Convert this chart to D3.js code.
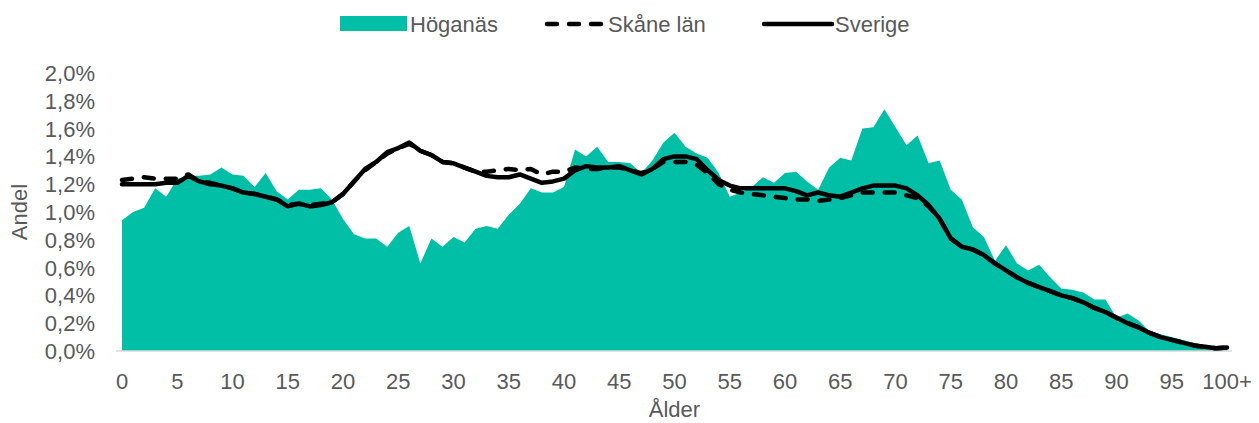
<!DOCTYPE html>
<html>
<head>
<meta charset="utf-8">
<script src="https://cdn.jsdelivr.net/npm/d3@7"></script>
<style>
  body { margin: 0; background: #fff; }
  text { font-family: "Liberation Sans", Arial, sans-serif; fill: #595959; }
</style>
</head>
<body>
<div id="chart"></div>
<script>
var width = 1259,
    height = 423;

// ålder 0..100+
var ages = d3.range(0, 101);
var tickAges = d3.range(0, 101, 5);
var tickLabels = tickAges.map(function(a) { return a == 100 ? "100+" : String(a); });
var yTicks = [0, .002, .004, .006, .008, .01, .012, .014, .016, .018, .02];

// andel i procent
var hoganas = [0.94,1.00,1.03,1.17,1.11,1.24,1.26,1.26,1.27,1.32,
  1.27,1.26,1.18,1.28,1.15,1.09,1.16,1.16,1.17,1.09,
  0.95,0.84,0.81,0.81,0.75,0.85,0.90,0.63,0.81,0.75,
  0.82,0.78,0.88,0.90,0.88,0.98,1.06,1.17,1.14,1.14,
  1.18,1.45,1.40,1.47,1.36,1.36,1.35,1.28,1.37,1.50,
  1.57,1.47,1.42,1.39,1.28,1.11,1.14,1.18,1.25,1.21,
  1.28,1.29,1.22,1.16,1.32,1.39,1.37,1.60,1.61,1.74,
  1.61,1.48,1.55,1.35,1.37,1.16,1.09,0.89,0.82,0.65,
  0.76,0.63,0.58,0.62,0.53,0.45,0.44,0.42,0.37,0.37,
  0.24,0.27,0.22,0.14,0.12,0.10,0.08,0.06,0.04,0.03,0.02];

var skane = [1.23,1.24,1.25,1.24,1.24,1.24,1.27,1.22,1.21,1.19,
  1.17,1.14,1.13,1.11,1.09,1.05,1.06,1.05,1.06,1.07,
  1.13,1.22,1.30,1.36,1.42,1.46,1.49,1.44,1.41,1.36,
  1.35,1.32,1.29,1.29,1.30,1.31,1.30,1.31,1.27,1.29,
  1.29,1.32,1.31,1.31,1.32,1.32,1.30,1.28,1.31,1.36,
  1.36,1.36,1.34,1.28,1.20,1.16,1.14,1.13,1.12,1.11,
  1.10,1.09,1.09,1.08,1.09,1.10,1.12,1.14,1.14,1.14,
  1.14,1.12,1.10,1.04,0.95,0.81,0.75,0.73,0.69,0.63,
  0.58,0.53,0.49,0.46,0.43,0.40,0.38,0.35,0.31,0.28,
  0.24,0.20,0.17,0.13,0.10,0.08,0.06,0.04,0.03,0.02,0.025];

var sverige = [1.20,1.20,1.20,1.20,1.21,1.21,1.26,1.22,1.20,1.19,
  1.17,1.14,1.13,1.11,1.09,1.04,1.06,1.04,1.05,1.07,
  1.13,1.22,1.31,1.36,1.43,1.46,1.50,1.44,1.41,1.36,
  1.35,1.32,1.29,1.26,1.25,1.25,1.27,1.24,1.21,1.22,
  1.24,1.30,1.33,1.32,1.32,1.33,1.30,1.27,1.31,1.38,
  1.40,1.40,1.38,1.30,1.23,1.19,1.17,1.17,1.17,1.17,
  1.17,1.15,1.12,1.14,1.12,1.11,1.14,1.17,1.19,1.19,
  1.19,1.17,1.12,1.05,0.95,0.81,0.75,0.73,0.69,0.63,
  0.58,0.53,0.49,0.46,0.43,0.40,0.38,0.35,0.31,0.28,
  0.24,0.20,0.17,0.13,0.10,0.08,0.06,0.04,0.03,0.02,0.025];

var teal = "#00bfa6";
var fontSize = "22px";

var svg = d3.select("#chart").append("svg")
  .attr("width", width)
  .attr("height", height);

var x = d3.scaleLinear().domain([0, 100]).range([122, 1227]);
var y = d3.scaleLinear().domain([0, 0.02]).range([351, 73]);

var area = d3.area()
  .x(function(d, i) { return x(ages[i]); })
  .y0(y(0))
  .y1(function(d) { return y(d / 100); });

var line = d3.line()
  .x(function(d, i) { return x(ages[i]); })
  .y(function(d) { return y(d / 100); });

svg.append("path")
  .datum(hoganas)
  .attr("fill", teal)
  .attr("d", area);

// baseline
svg.append("line")
  .attr("x1", 116).attr("x2", 1232)
  .attr("y1", y(0)).attr("y2", y(0))
  .attr("stroke", "#d9d9d9")
  .attr("stroke-width", 1.5);

svg.append("path")
  .datum(skane)
  .attr("fill", "none")
  .attr("stroke", "#000")
  .attr("stroke-width", 4.5)
  .attr("stroke-linecap", "round")
  .attr("stroke-linejoin", "round")
  .attr("stroke-dasharray", "10,12")
  .attr("d", line);

svg.append("path")
  .datum(sverige)
  .attr("fill", "none")
  .attr("stroke", "#000")
  .attr("stroke-width", 4.5)
  .attr("stroke-linecap", "round")
  .attr("stroke-linejoin", "round")
  .attr("d", line);

// y axis labels
svg.selectAll("text.ytick")
  .data(yTicks)
  .enter().append("text")
  .attr("class", "ytick")
  .attr("x", 95)
  .attr("y", function(d) { return y(d) + 8; })
  .style("text-anchor", "end")
  .style("font-size", fontSize)
  .text(function(d) { return d3.format(".1f")(d * 100).replace(".", ",") + "%"; });

// x axis labels
svg.selectAll("text.xtick")
  .data(tickAges)
  .enter().append("text")
  .attr("class", "xtick")
  .attr("x", function(d) { return x(d); })
  .attr("y", 389)
  .style("text-anchor", "middle")
  .style("font-size", fontSize)
  .text(function(d, i) { return tickLabels[i]; });

svg.append("text")
  .attr("x", x(50))
  .attr("y", 417)
  .style("text-anchor", "middle")
  .style("font-size", fontSize)
  .text("Ålder");

svg.append("text")
  .attr("transform", "translate(27," + y(0.01) + ") rotate(-90)")
  .style("text-anchor", "middle")
  .style("font-size", fontSize)
  .text("Andel");

// legend
var legend = svg.append("g");
legend.append("rect")
  .attr("x", 340).attr("y", 16)
  .attr("width", 67).attr("height", 15)
  .attr("fill", teal);
legend.append("text")
  .attr("x", 410).attr("y", 32)
  .style("font-size", fontSize)
  .text("Höganäs");

legend.append("line")
  .attr("x1", 547).attr("x2", 602)
  .attr("y1", 24).attr("y2", 24)
  .attr("stroke", "#000").attr("stroke-width", 4.5)
  .attr("stroke-linecap", "round")
  .attr("stroke-dasharray", "10,12");
legend.append("text")
  .attr("x", 608).attr("y", 32)
  .style("font-size", fontSize)
  .text("Skåne län");

legend.append("line")
  .attr("x1", 764).attr("x2", 832)
  .attr("y1", 24).attr("y2", 24)
  .attr("stroke", "#000").attr("stroke-width", 4.5)
  .attr("stroke-linecap", "round");
legend.append("text")
  .attr("x", 835).attr("y", 32)
  .style("font-size", fontSize)
  .text("Sverige");
</script>
</body>
</html>
